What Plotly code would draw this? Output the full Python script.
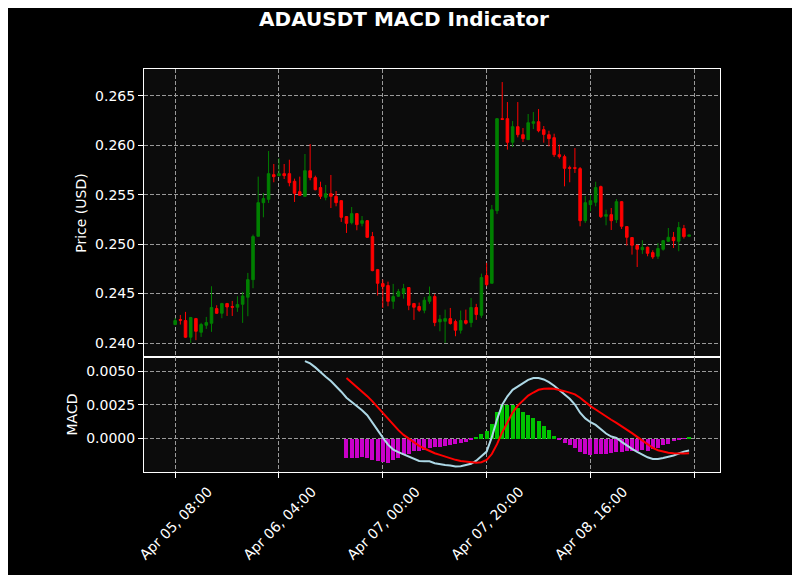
import pandas as pd
import plotly.graph_objects as go
from plotly.subplots import make_subplots

# hourly ADAUSDT candles, Apr 05 08:00 -> Apr 09 11:00
times = pd.date_range("2024-04-05 08:00", periods=100, freq="h")

opens = [0.24187, 0.24237, 0.24227, 0.24059, 0.24247, 0.24109, 0.24180, 0.24200, 0.24348, 0.24301,
         0.24399, 0.24369, 0.24362, 0.24392, 0.24463, 0.24641, 0.25079, 0.25419, 0.25453, 0.25702,
         0.25692, 0.25712, 0.25712, 0.25635, 0.25530, 0.25483, 0.25742, 0.25672, 0.25571, 0.25473,
         0.25510, 0.25483, 0.25439, 0.25278, 0.25217, 0.25308, 0.25210, 0.25237, 0.25076, 0.24742,
         0.24601, 0.24581, 0.24422, 0.24473, 0.24503, 0.24561, 0.24399, 0.24369, 0.24332, 0.24422,
         0.24470, 0.24214, 0.24220, 0.24247, 0.24217, 0.24130, 0.24227, 0.24207, 0.24359, 0.24281,
         0.24682, 0.24604, 0.25338, 0.26268, 0.26268, 0.26029, 0.26187, 0.26106, 0.26056, 0.26221,
         0.26237, 0.26157, 0.26106, 0.26076, 0.25904, 0.25884, 0.25773, 0.25773, 0.25763, 0.25237,
         0.25399, 0.25423, 0.25581, 0.25281, 0.25298, 0.25247, 0.25429, 0.25177, 0.25066, 0.24988,
         0.24944, 0.24968, 0.24914, 0.24877, 0.24948, 0.25029, 0.25069, 0.25029, 0.25157, 0.25079]

highs = [0.24254, 0.24284, 0.24315, 0.24264, 0.24254, 0.24204, 0.24264, 0.24574, 0.24382, 0.24406,
         0.24406, 0.24426, 0.24473, 0.24517, 0.24709, 0.25096, 0.25682, 0.25517, 0.25941, 0.25810,
         0.25867, 0.25810, 0.25853, 0.25662, 0.25682, 0.25911, 0.26012, 0.25692, 0.25631, 0.25598,
         0.25699, 0.25537, 0.25446, 0.25284, 0.25375, 0.25315, 0.25284, 0.25244, 0.25123, 0.24749,
         0.24641, 0.24621, 0.24598, 0.24547, 0.24598, 0.24561, 0.24406, 0.24409, 0.24466, 0.24571,
         0.24497, 0.24284, 0.24338, 0.24355, 0.24237, 0.24328, 0.24338, 0.24456, 0.24396, 0.24702,
         0.24810, 0.25396, 0.26274, 0.26638, 0.26436, 0.26244, 0.26436, 0.26173, 0.26315, 0.26335,
         0.26365, 0.26194, 0.26146, 0.26116, 0.26005, 0.25904, 0.25793, 0.25971, 0.25779, 0.25486,
         0.25497, 0.25631, 0.25591, 0.25348, 0.25365, 0.25456, 0.25436, 0.25183, 0.25072, 0.24995,
         0.25039, 0.24975, 0.24938, 0.25012, 0.25042, 0.25163, 0.25123, 0.25224, 0.25194, 0.25096]

lows = [0.24180, 0.24187, 0.24052, 0.24002, 0.24029, 0.24062, 0.24143, 0.24113, 0.24295, 0.24251,
        0.24274, 0.24274, 0.24315, 0.24204, 0.24271, 0.24554, 0.25079, 0.25271, 0.25416, 0.25625,
        0.25685, 0.25658, 0.25584, 0.25426, 0.25493, 0.25483, 0.25645, 0.25544, 0.25456, 0.25443,
        0.25365, 0.25382, 0.25224, 0.25113, 0.25200, 0.25140, 0.25180, 0.25062, 0.24726, 0.24480,
        0.24355, 0.24372, 0.24345, 0.24466, 0.24449, 0.24332, 0.24234, 0.24315, 0.24301, 0.24396,
        0.24170, 0.24119, 0.24002, 0.24187, 0.24069, 0.24096, 0.24187, 0.24160, 0.24234, 0.24254,
        0.24574, 0.24604, 0.25305, 0.26254, 0.25955, 0.25981, 0.26079, 0.26032, 0.26056, 0.26163,
        0.26130, 0.26025, 0.25988, 0.25880, 0.25864, 0.25584, 0.25625, 0.25719, 0.25180, 0.25214,
        0.25332, 0.25382, 0.25264, 0.25190, 0.25143, 0.25214, 0.25153, 0.24985, 0.24894, 0.24769,
        0.24901, 0.24877, 0.24850, 0.24850, 0.24934, 0.25022, 0.24961, 0.24928, 0.25056, 0.25079]

closes = [0.24227, 0.24231, 0.24059, 0.24258, 0.24119, 0.24187, 0.24207, 0.24359, 0.24301, 0.24399,
          0.24365, 0.24362, 0.24389, 0.24476, 0.24641, 0.25076, 0.25419, 0.25460, 0.25712, 0.25682,
          0.25712, 0.25692, 0.25621, 0.25513, 0.25493, 0.25742, 0.25672, 0.25550, 0.25483, 0.25510,
          0.25483, 0.25419, 0.25271, 0.25210, 0.25308, 0.25197, 0.25237, 0.25069, 0.24732, 0.24604,
          0.24571, 0.24422, 0.24470, 0.24520, 0.24550, 0.24382, 0.24362, 0.24332, 0.24433, 0.24470,
          0.24207, 0.24241, 0.24247, 0.24197, 0.24130, 0.24227, 0.24200, 0.24359, 0.24288, 0.24662,
          0.24591, 0.25348, 0.26268, 0.26261, 0.26029, 0.26187, 0.26106, 0.26066, 0.26227, 0.26237,
          0.26146, 0.26109, 0.26066, 0.25904, 0.25884, 0.25766, 0.25766, 0.25766, 0.25237, 0.25419,
          0.25439, 0.25571, 0.25278, 0.25298, 0.25237, 0.25429, 0.25180, 0.25069, 0.24988, 0.24948,
          0.24968, 0.24907, 0.24870, 0.24955, 0.25035, 0.25069, 0.25035, 0.25167, 0.25076, 0.25093]

# MACD line starts at candle 25, signal and histogram at candle 33
macd = [0.00574, 0.00557, 0.00527, 0.00490, 0.00458, 0.00426, 0.00389, 0.00347, 0.00302, 0.00272,
        0.00240, 0.00210, 0.00173, 0.00116, 0.00062, 0.00007, -0.00045, -0.00082, -0.00101, -0.00116,
        -0.00131, -0.00149, -0.00166, -0.00168, -0.00168, -0.00183, -0.00191, -0.00196, -0.00200, -0.00207,
        -0.00206, -0.00199, -0.00187, -0.00164, -0.00132, -0.00097, 0.00010, 0.00142, 0.00251, 0.00313,
        0.00361, 0.00386, 0.00413, 0.00435, 0.00448, 0.00448, 0.00438, 0.00418, 0.00391, 0.00360,
        0.00333, 0.00295, 0.00252, 0.00191, 0.00149, 0.00121, 0.00101, 0.00067, 0.00037, 0.00015,
        0.00005, -0.00025, -0.00052, -0.00077, -0.00099, -0.00121, -0.00139, -0.00151, -0.00151, -0.00144,
        -0.00136, -0.00126, -0.00111, -0.00097, -0.00089]

signal = [0.00448, 0.00416, 0.00384, 0.00349, 0.00314, 0.00275, 0.00233, 0.00188, 0.00144, 0.00101,
          0.00062, 0.00027, -0.00002, -0.00030, -0.00054, -0.00074, -0.00092, -0.00109, -0.00121, -0.00134,
          -0.00146, -0.00158, -0.00166, -0.00172, -0.00177, -0.00179, -0.00176, -0.00159, -0.00115, -0.00042,
          0.00047, 0.00119, 0.00192, 0.00244, 0.00283, 0.00318, 0.00341, 0.00361, 0.00368, 0.00371,
          0.00368, 0.00361, 0.00351, 0.00340, 0.00327, 0.00302, 0.00270, 0.00240, 0.00215, 0.00188,
          0.00163, 0.00139, 0.00116, 0.00092, 0.00067, 0.00040, 0.00012, -0.00017, -0.00045, -0.00069,
          -0.00087, -0.00099, -0.00106, -0.00109, -0.00111, -0.00111, -0.00109]

hist = [-0.00144, -0.00144, -0.00144, -0.00136, -0.00141, -0.00156, -0.00166, -0.00176, -0.00181, -0.00161,
        -0.00141, -0.00124, -0.00111, -0.00094, -0.00092, -0.00087, -0.00067, -0.00062, -0.00062, -0.00055,
        -0.00048, -0.00040, -0.00030, -0.00022, -0.00010, 0.00007, 0.00037, 0.00055, 0.00107, 0.00197,
        0.00246, 0.00246, 0.00246, 0.00226, 0.00197, 0.00172, 0.00152, 0.00127, 0.00092, 0.00065,
        0.00022, -0.00010, -0.00032, -0.00050, -0.00067, -0.00099, -0.00111, -0.00124, -0.00111, -0.00116,
        -0.00116, -0.00106, -0.00099, -0.00099, -0.00094, -0.00094, -0.00094, -0.00087, -0.00092, -0.00079,
        -0.00067, -0.00050, -0.00037, -0.00017, -0.00005, -0.00002, 0.00007]

tick_times = ["2024-04-05 08:00", "2024-04-06 04:00", "2024-04-07 00:00",
              "2024-04-07 20:00", "2024-04-08 16:00", "2024-04-09 12:00"]
tick_text = ["Apr 05, 08:00", "Apr 06, 04:00", "Apr 07, 00:00",
             "Apr 07, 20:00", "Apr 08, 16:00", ""]

GRID = "#9a9a9a"
FONT = "DejaVu Sans"

fig = make_subplots(rows=2, cols=1, shared_xaxes=True, vertical_spacing=0)

fig.add_trace(go.Candlestick(
    x=times, open=opens, high=highs, low=lows, close=closes,
    increasing=dict(line=dict(color="#008000", width=1), fillcolor="#008000"),
    decreasing=dict(line=dict(color="#ff0000", width=1), fillcolor="#ff0000"),
    whiskerwidth=0, showlegend=False, hoverinfo="skip"), row=1, col=1)

hist_colors = ["#00c400" if v >= 0 else "#c800c8" for v in hist]
fig.add_trace(go.Bar(x=times[33:], y=hist, marker_color=hist_colors, marker_line_width=0,
                     width=0.77 * 3600 * 1000, showlegend=False), row=2, col=1)
fig.add_trace(go.Scatter(x=times[25:], y=macd, mode="lines",
                         line=dict(color="#add8e6", width=2), showlegend=False), row=2, col=1)
fig.add_trace(go.Scatter(x=times[33:], y=signal, mode="lines",
                         line=dict(color="#ff0000", width=2), showlegend=False), row=2, col=1)

xrange = ["2024-04-05 02:00", "2024-04-09 16:57"]
common_x = dict(range=xrange, tickvals=tick_times, showgrid=True, gridcolor=GRID,
                griddash="4px,2px", gridwidth=1, showline=True, linecolor="white",
                linewidth=1, mirror=True, zeroline=False)
common_y = dict(showgrid=True, gridcolor=GRID, griddash="4px,2px", gridwidth=1,
                showline=True, linecolor="white", linewidth=1, mirror=True,
                ticks="outside", ticklen=5, tickcolor="white", zeroline=False,
                tickfont=dict(size=14, color="white"), title_standoff=5)

# the page body adds an 8px offset, so the figure is drawn 8px smaller
fig.update_layout(
    width=792, height=567,
    margin=dict(l=136, r=80, t=61, b=103),
    paper_bgcolor="#000000", plot_bgcolor="#0c0c0c",
    font=dict(family=FONT, color="white", size=14),
    bargap=0, showlegend=False,
    title=dict(text="ADAUSDT MACD Indicator", x=0.5, xanchor="center",
               yref="container", y=1 - 11 / 567, yanchor="middle",
               font=dict(size=20, weight="bold", color="white", family=FONT)),
    xaxis=dict(common_x, domain=[0, 1], showticklabels=False, ticks="",
               rangeslider=dict(visible=False)),
    xaxis2=dict(common_x, ticktext=tick_text, tickangle=-45, ticks="outside",
                ticklen=5, tickcolor="white", ticklabelshift=33,
                tickfont=dict(size=14, color="white")),
    yaxis=dict(common_y, domain=[115 / 403, 1], range=[0.23859, 0.26770],
               tickvals=[0.240, 0.245, 0.250, 0.255, 0.260, 0.265], tickformat=".3f",
               title=dict(text="Price (USD)", font=dict(size=14, color="white"))),
    yaxis2=dict(common_y, domain=[0, 115 / 403], range=[-0.00248, 0.00604],
                tickvals=[0.0, 0.0025, 0.005], tickformat=".4f",
                title=dict(text="MACD", font=dict(size=14, color="white"))),
)

fig.write_html("out.html")
